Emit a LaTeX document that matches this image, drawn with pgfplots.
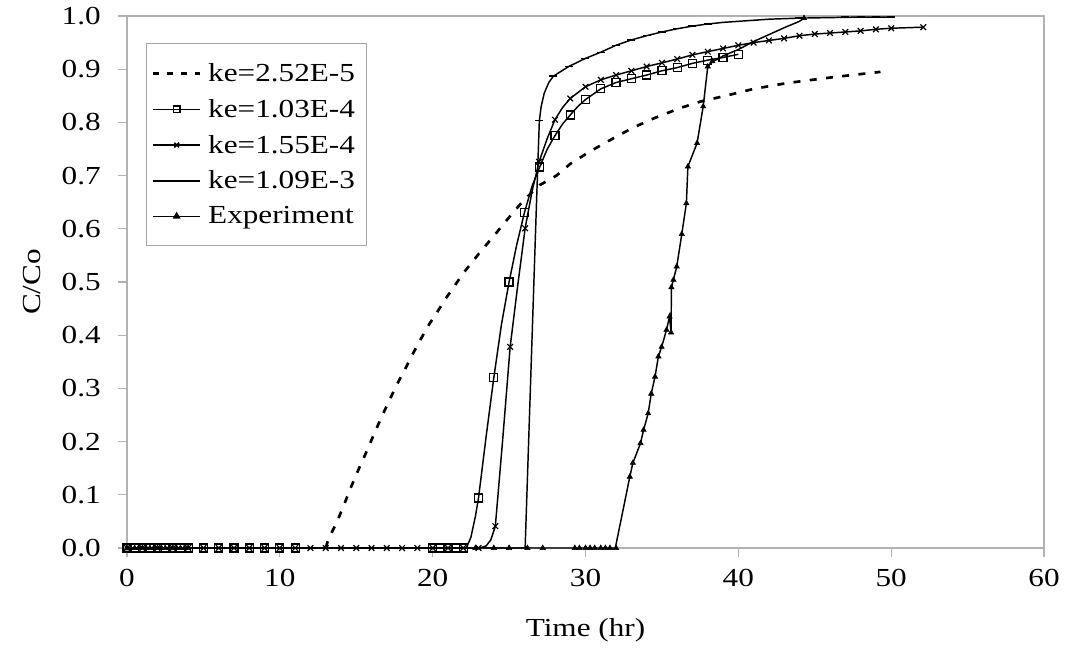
\documentclass[border=0pt]{standalone}
\usepackage{fontspec}
\setmainfont{Liberation Serif}[FakeStretch=1.2]
\usepackage{pgfplots}
\pgfplotsset{compat=1.18}
\begin{document}
\begin{tikzpicture}
\begin{axis}[
  scale only axis, width=687.75pt, height=399pt,
  xmin=0, xmax=60, ymin=0, ymax=1,
  xtick={0,10,20,30,40,50,60},
  ytick={0,0.1,0.2,0.3,0.4,0.5,0.6,0.7,0.8,0.9,1.0},
  /pgf/number format/assume math mode=true,
  yticklabel style={/pgf/number format/fixed, /pgf/number format/fixed zerofill, /pgf/number format/precision=1},
  tick label style={font=\fontsize{19.5}{23}\selectfont},
  axis line style={gray!60, line width=0.8pt},
  tick style={gray!60, line width=0.8pt},
  tick align=outside, xtick pos=bottom, ytick pos=left,
  major tick length=6.5pt,
  xticklabel style={anchor=north, inner sep=0pt, yshift=-9pt},
  yticklabel style={anchor=east, inner sep=0pt, xshift=-13pt},
  xlabel={Time (hr)}, ylabel={C/Co},
  every axis x label/.style={at={(axis description cs:0.5,0)}, anchor=center, yshift=-61.5pt, font=\fontsize{19.5}{23}\selectfont},
  every axis y label/.style={at={(axis description cs:0,0.5)}, anchor=center, rotate=90, yshift=71.25pt, font=\fontsize{19.5}{23}\selectfont},
  legend image code/.code={\draw[mark repeat=2,mark phase=2,#1] plot coordinates {(0pt,0pt)(17.6pt,0pt)(35.25pt,0pt)};},
  legend style={at={(0,1)}, anchor=north west, xshift=14.25pt, yshift=-20.25pt,
    draw=gray!70, line width=0.8pt, font=\fontsize{19.5}{23}\selectfont,
    row sep=7.8pt, inner xsep=4pt, inner ysep=13pt,
    nodes={inner xsep=5pt}},
  legend cell align=left,
]
% ---- ke=2.52E-5 (dashed) ----
\addplot[black, line width=2pt, dash pattern=on 5.25pt off 7pt, forget plot] coordinates {
(13.0,0) (13.17,0.016) (13.72,0.048) (14.16,0.078) (14.59,0.110) (15.14,0.147) (15.64,0.179)
(16.16,0.214) (16.67,0.247) (17.17,0.278) (17.71,0.31) (18.19,0.336) (18.74,0.367) (19.17,0.39)
(19.78,0.421) (20.22,0.44) (20.88,0.47) (21.25,0.485) (21.96,0.515) (23.1,0.556) (24.1,0.59)
(25.1,0.625) (26,0.655) (27.0,0.682) (28.1,0.70) (29,0.722) (30.1,0.742) (31,0.757) (32,0.773)
(33.1,0.79) (34.5,0.808) (36.2,0.827) (37.5,0.839) (39.3,0.851) (41,0.863) (43.2,0.874)
(46.2,0.885) (49.3,0.895)};
% ---- ke=1.03E-4 (squares) ----
\addplot[black, line width=1.1pt, forget plot] coordinates {
(0,0) (22.2,0) (22.5,0.02) (22.8,0.06) (23,0.094) (23.5,0.21) (24,0.32) (24.5,0.42) (25,0.5)
(25.5,0.57) (26,0.63) (26.5,0.68) (27,0.716) (27.5,0.75) (28,0.775) (28.5,0.797) (29,0.814)
(29.5,0.83) (30,0.843) (31,0.863) (32,0.875) (33,0.882) (34,0.889) (35,0.897) (36,0.903)
(37,0.911) (38,0.917) (39,0.922) (40,0.928)};
\addplot[only marks, mark=square, mark size=3pt, mark options={black, line width=0.9pt, fill=white}, forget plot] coordinates {
(0,0) (0.5,0) (1,0) (1.5,0) (2,0) (2.5,0) (3,0) (3.5,0) (4,0) (5,0) (6,0) (7,0) (8,0) (9,0)
(10,0) (11,0) (20,0) (20.5,0) (21,0) (21.5,0) (22,0) (23,0.094) (24,0.32) (25,0.5) (26,0.63)
(27,0.716) (28,0.775) (29,0.814) (30,0.843) (31,0.863) (32,0.875) (33,0.882) (34,0.889)
(35,0.897) (36,0.903) (37,0.911) (38,0.917) (39,0.922) (40,0.928)};
% ---- ke=1.55E-4 (x marks) ----
\addplot[black, line width=1.1pt, forget plot] coordinates {
(0,0) (23.1,0) (23.5,0.004) (23.8,0.015) (24.1,0.041) (24.6,0.21) (25.07,0.378) (25.55,0.49)
(26.05,0.601) (26.5,0.67) (26.96,0.726) (27.5,0.77) (28,0.805) (28.5,0.828) (29,0.845)
(30,0.867) (31,0.88) (32,0.889) (33,0.897) (34,0.905) (35,0.912) (36,0.919) (37,0.927)
(38,0.933) (39,0.939) (40,0.945) (41,0.95) (42,0.954) (43,0.958) (44,0.963) (45,0.966)
(46,0.968) (47,0.97) (48,0.972) (49,0.975) (50,0.977) (52.1,0.979)};
\addplot[only marks, mark=x, mark size=3pt, mark options={black, line width=0.9pt}, forget plot] coordinates {
(0,0) (1,0) (2,0) (3,0) (4,0) (5,0) (6,0) (7,0) (8,0) (9,0) (10,0) (11,0) (12,0) (13,0) (14,0)
(15,0) (16,0) (17,0) (18,0) (19,0) (20,0) (21,0) (22,0) (23,0) (24.1,0.041) (25.07,0.378)
(26.05,0.601) (26.96,0.726) (28,0.805) (29,0.845) (30,0.867) (31,0.88) (32,0.889) (33,0.897)
(34,0.905) (35,0.912) (36,0.919) (37,0.927) (38,0.933) (39,0.939) (40,0.945) (41,0.95)
(42,0.954) (43,0.958) (44,0.963) (45,0.966) (46,0.968) (47,0.97) (48,0.972) (49,0.975)
(50,0.977) (52.1,0.979)};
% ---- ke=1.09E-3 (dash marks) ----
\addplot[black, line width=1.1pt, forget plot] coordinates {
(0,0) (26.05,0) (26.8,0.654) (26.98,0.803) (27.1,0.83) (27.3,0.855) (27.6,0.875) (27.9,0.887)
(28.9,0.905) (29.97,0.92) (31,0.932) (32,0.945) (33,0.955) (34,0.963) (35,0.97) (36,0.976)
(37,0.981) (38,0.985) (39,0.988) (40,0.99) (41,0.992) (42,0.994) (43,0.995) (44,0.996)
(46,0.997) (48,0.998) (50,0.998)};
\addplot[only marks, mark=-, mark size=3pt, mark options={black, line width=1pt}, forget plot] coordinates {
(26.98,0.803) (27.9,0.887) (28.9,0.905) (29.97,0.92) (31,0.932) (32,0.945) (33,0.955) (34,0.963)
(35,0.97) (36,0.976) (37,0.981) (38,0.985) (39,0.988) (40,0.99) (41,0.992) (42,0.994)
(43,0.995) (44,0.996) (45,0.997) (46,0.997) (47,0.998) (48,0.998) (49,0.998) (50,0.998)};
% ---- Experiment (triangles) ----
\addplot[black, line width=1.1pt, forget plot] coordinates {
(0,0) (31.95,0) (32.9,0.134) (33.1,0.16) (33.6,0.197) (33.8,0.222) (34.1,0.253) (34.3,0.29)
(34.55,0.322) (34.77,0.36) (34.98,0.378) (35.3,0.41) (35.5,0.435) (35.6,0.405) (35.62,0.49)
(35.75,0.504) (35.97,0.529) (36.3,0.59) (36.6,0.648) (36.7,0.717) (37.3,0.761) (37.7,0.83)
(38.0,0.905) (38.3,0.915) (38.6,0.918) (39,0.925) (40,0.937) (41,0.952) (42,0.965) (43,0.978)
(44,0.99) (44.3,0.996)};
\addplot[only marks, mark=triangle*, mark size=2.3pt, mark options={black}, forget plot] coordinates {
(0,0) (0.25,0) (0.5,0) (0.75,0) (1,0) (1.25,0) (1.5,0) (1.75,0) (2,0) (2.25,0) (2.5,0)
(2.75,0) (3,0) (3.25,0) (3.5,0) (3.75,0) (4,0) (22.8,0) (24,0) (25,0) (26.2,0) (27.2,0)
(29.3,0) (29.6,0) (30,0) (30.3,0) (30.6,0) (31,0) (31.3,0) (31.6,0) (32,0)
(32.9,0.134) (33.1,0.16) (33.6,0.197) (33.8,0.222) (34.1,0.253) (34.3,0.29)
(34.55,0.322) (34.77,0.36) (34.98,0.378) (35.3,0.41) (35.5,0.435) (35.6,0.405) (35.62,0.49)
(35.75,0.504) (35.97,0.529) (36.3,0.59) (36.6,0.648) (36.7,0.717) (37.3,0.761) (37.7,0.83)
(38.0,0.905) (38.3,0.915) (44.3,0.996)};
% ---- legend ----
\addlegendimage{black, line width=2pt, dash pattern=on 4.5pt off 6pt}
\addlegendentry{ke=2.52E-5}
\addlegendimage{black, line width=1.1pt, mark=square, mark size=2.5pt, mark options={fill=white, line width=0.9pt}}
\addlegendentry{ke=1.03E-4}
\addlegendimage{black, line width=1.1pt, mark=x, mark size=2.5pt}
\addlegendentry{ke=1.55E-4}
\addlegendimage{black, line width=1.1pt, mark=-, mark size=2.5pt}
\addlegendentry{ke=1.09E-3}
\addlegendimage{black, line width=1.1pt, mark=triangle*, mark size=2.3pt}
\addlegendentry{Experiment}
\end{axis}
\pgfresetboundingbox
\path ([xshift=-95.25pt,yshift=-82.5pt]current axis.south west) rectangle ([xshift=18.75pt,yshift=12pt]current axis.north east);
\end{tikzpicture}
\end{document}
